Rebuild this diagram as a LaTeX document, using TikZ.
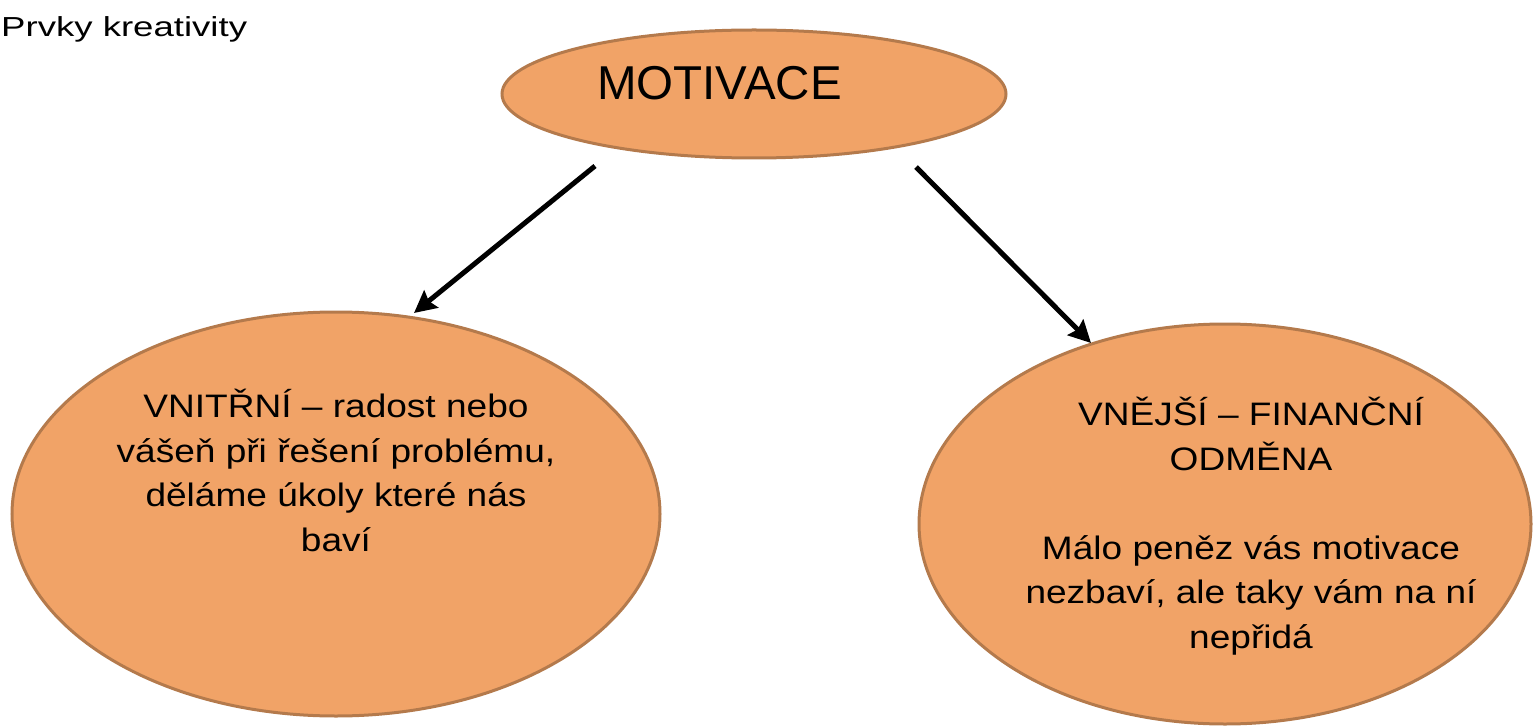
\documentclass[tikz,border=0pt]{standalone}
\usepackage{fontspec}
\setmainfont{Liberation Sans}
\newfontfamily\titlefont[FakeStretch=1.33]{Liberation Sans}
\newfontfamily\bodyfont[FakeStretch=1.14]{Liberation Sans}
\usetikzlibrary{shapes.geometric,arrows.meta}
\definecolor{ovalfill}{RGB}{241,163,103}
\definecolor{ovaledge}{RGB}{180,122,76}
\tikzset{
  oval/.style={ellipse, fill=ovalfill, draw=ovaledge, line width=3pt, inner sep=0pt},
  bodytext/.style={align=center, font=\bodyfont\fontsize{32.5}{44.5}\selectfont, inner sep=0pt, anchor=base},
  conn/.style={line width=5pt, -{Stealth[length=22pt,width=22pt,inset=3pt]}}
}
\begin{document}
\begin{tikzpicture}[x=1pt,y=-1pt]
\useasboundingbox (0,0) rectangle (1533,727);
\node[anchor=base west, inner sep=0pt, font=\titlefont\fontsize{27.5}{32}\selectfont] (title) at (1,37) {Prvky kreativity};
\node[oval, minimum width=504pt, minimum height=128pt] (top) at (754,94) {};
\node[anchor=base west, inner sep=0pt, font=\fontsize{47.5}{52}\selectfont] (toptext) at (597,100) {MOTIVACE};
\node[oval, minimum width=648pt, minimum height=404pt] (left) at (336,514) {};
\node[bodytext] (lefttext) at (336,551) {VNITŘNÍ – radost nebo\\vášeň při řešení problému,\\děláme úkoly které nás\\baví};
\node[oval, minimum width=612pt, minimum height=400pt] (right) at (1225,524) {};
\node[bodytext] (righttext) at (1251,648) {VNĚJŠÍ – FINANČNÍ\\ODMĚNA\\[44.5pt]Málo peněz vás motivace\\nezbaví, ale taky vám na ní\\nepřidá};
\coordinate (a1) at (595,166);
\coordinate (a2) at (414,313);
\coordinate (b1) at (916,167);
\coordinate (b2) at (1091,343);
\draw[conn] (a1) -- (a2);
\draw[conn] (b1) -- (b2);
\end{tikzpicture}
\end{document}
